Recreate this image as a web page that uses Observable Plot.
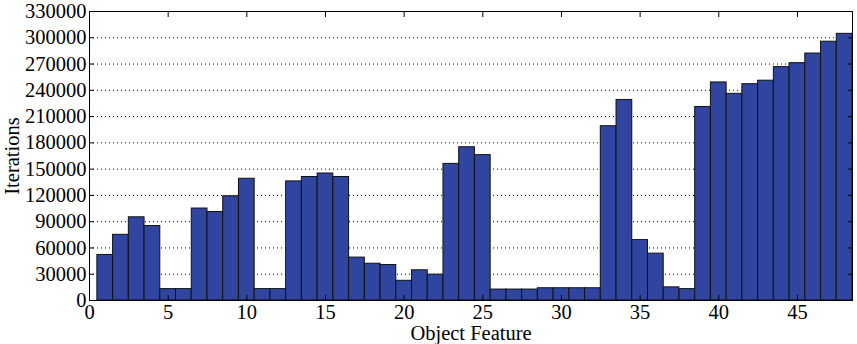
<!DOCTYPE html>
<html>
<head>
<meta charset="utf-8">
<script src="https://cdn.jsdelivr.net/npm/d3@7"></script>
<script src="https://cdn.jsdelivr.net/npm/@observablehq/plot@0.6"></script>
<style>
  html, body { margin: 0; padding: 0; background: #fff; }
</style>
</head>
<body>
<div id="chart"></div>
<script>
const features = [1,2,3,4,5,6,7,8,9,10,11,12,13,14,15,16,17,18,19,20,21,22,23,24,25,26,27,28,29,30,31,32,33,34,35,36,37,38,39,40,41,42,43,44,45,46,47,48];
const iterations = [
  52000, 75000, 95000, 85000, 13000, 13000, 105000, 101000, 119000, 139000,
  13000, 13000, 136000, 141000, 145000, 141000, 49000, 42000, 40500, 22500,
  34500, 29500, 156000, 175000, 166000, 12500, 12500, 12500, 14000, 14000,
  14000, 14000, 199000, 229000, 69000, 53500, 15000, 13000, 221000, 249000,
  236000, 247000, 251000, 266500, 271000, 282000, 295500, 304500
];
const xTicks = [0, 5, 10, 15, 20, 25, 30, 35, 40, 45];
const yTicks = [0, 30000, 60000, 90000, 120000, 150000, 180000, 210000, 240000, 270000, 300000, 330000];

const data = features.map((f, i) => ({f, v: iterations[i]}));

const chart = Plot.plot({
  width: 857,
  height: 344,
  marginLeft: 89,
  marginRight: 5,
  marginTop: 11,
  marginBottom: 44,
  style: {fontFamily: "'Liberation Serif', 'Times New Roman', serif", fontSize: "20.5px", color: "black", background: "white"},
  x: {domain: [0, 48.5]},
  y: {domain: [0, 330000]},
  marks: [
    Plot.gridY(yTicks, {stroke: "black", strokeOpacity: 1, strokeWidth: 1, strokeDasharray: "1,3"}),
    Plot.rectY(data, {x1: d => d.f - 0.5, x2: d => d.f + 0.5, y: "v", fill: "#2f45a0", stroke: "#111", strokeWidth: 1}),
    Plot.frame({stroke: "black", strokeWidth: 1}),
    Plot.axisX(xTicks, {anchor: "bottom", tickSize: -5, tickPadding: 9, tickFormat: d => d, label: "Object Feature", labelAnchor: "center", labelArrow: "none", labelOffset: 39}),
    Plot.axisX(xTicks, {anchor: "top", tickSize: -5, text: null, label: null}),
    Plot.axisY(yTicks, {anchor: "left", tickSize: -5, tickPadding: 8, tickFormat: d => String(d), label: "Iterations", labelAnchor: "center", labelArrow: "none", labelOffset: 85}),
    Plot.axisY(yTicks, {anchor: "right", tickSize: -5, text: null, label: null})
  ]
});
document.getElementById("chart").appendChild(chart);
</script>
</body>
</html>
